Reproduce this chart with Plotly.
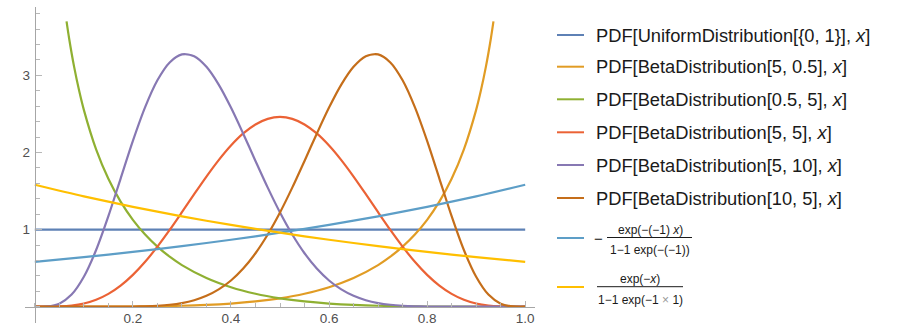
import plotly.graph_objects as go

# ---------------- data ----------------
x_uniform = [0.0, 1.0]
y_uniform = [1.0, 1.0]

x_beta = [0, 0.025, 0.05, 0.075, 0.1, 0.125, 0.15, 0.175, 0.2, 0.225, 0.25, 0.275, 0.3,
          0.325, 0.35, 0.375, 0.4, 0.425, 0.45, 0.475, 0.5, 0.525, 0.55, 0.575, 0.6,
          0.625, 0.65, 0.675, 0.7, 0.725, 0.75, 0.775, 0.8, 0.825, 0.85, 0.875, 0.9,
          0.925, 0.95, 0.975, 1.0]

y_beta_5_5 = [0, 0.000222, 0.003207, 0.014593, 0.041334, 0.09016, 0.16648, 0.27372, 0.41288,
              0.58248, 0.77866, 0.99544, 1.22523, 1.45912, 1.68759, 1.90102, 2.09019, 2.24678,
              2.36395, 2.43640, 2.46094, 2.43640, 2.36395, 2.24678, 2.09019, 1.90102, 1.68759,
              1.45912, 1.22523, 0.99544, 0.77866, 0.58248, 0.41288, 0.27372, 0.16648, 0.09016,
              0.041334, 0.014593, 0.003207, 0.000222, 0]

y_beta_5_10 = [0, 0.003114, 0.03943, 0.15703, 0.38781, 0.73478, 1.17373, 1.66211, 2.14961,
               2.58750, 2.93593, 3.16813, 3.27190, 3.24859, 3.11117, 2.88059, 2.58246, 2.24400,
               1.89050, 1.54403, 1.22192, 0.93608, 0.69310, 0.49500, 0.34006, 0.22398, 0.14083,
               0.08406, 0.04731, 0.02488, 0.01208, 0.005339, 0.002099, 0.000714, 0.000201,
               0.000044, 0.0000066, 0.00000055, 0, 0, 0]

y_beta_10_5 = [0, 0, 0, 0.00000055, 0.0000066, 0.000044, 0.000201, 0.000714, 0.002099,
               0.005339, 0.01208, 0.02488, 0.04731, 0.08406, 0.14083, 0.22398, 0.34006,
               0.49500, 0.69310, 0.93608, 1.22192, 1.54403, 1.89050, 2.24400, 2.58246,
               2.88059, 3.11117, 3.24859, 3.27190, 3.16813, 2.93593, 2.58750, 2.14961,
               1.66211, 1.17373, 0.73478, 0.38781, 0.15703, 0.03943, 0.003114, 0]

x_beta_5_05 = [0, 0.05, 0.1, 0.15, 0.2, 0.25, 0.3, 0.35, 0.4, 0.45, 0.5, 0.55, 0.6, 0.65, 0.7,
               0.725, 0.75, 0.775, 0.8, 0.825, 0.85, 0.875, 0.9, 0.91, 0.92, 0.93, 0.9353]
y_beta_5_05 = [0, 0.0000079, 0.0001297, 0.0006756, 0.0022012, 0.00555, 0.011913, 0.022903,
               0.040666, 0.068036, 0.10876, 0.16785, 0.25214, 0.37127, 0.53939, 0.64827,
               0.77866, 0.93581, 1.12697, 1.36260, 1.65845, 2.04009, 2.55294, 2.81265,
               3.11657, 3.47899, 3.70]

x_beta_05_5 = [0.0647, 0.07, 0.08, 0.09, 0.1, 0.125, 0.15, 0.175, 0.2, 0.225, 0.25, 0.275, 0.3,
               0.35, 0.4, 0.45, 0.5, 0.55, 0.6, 0.65, 0.7, 0.75, 0.8, 0.85, 0.9, 0.95, 1.0]
y_beta_05_5 = [3.70, 3.47899, 3.11657, 2.81265, 2.55294, 2.04009, 1.65845, 1.36260, 1.12697,
               0.93581, 0.77866, 0.64827, 0.53939, 0.37127, 0.25214, 0.16785, 0.10876,
               0.068036, 0.040666, 0.022903, 0.011913, 0.00555, 0.0022012, 0.0006756,
               0.0001297, 0.0000079, 0]

x_exp = [0, 0.1, 0.2, 0.3, 0.4, 0.5, 0.6, 0.7, 0.8, 0.9, 1.0]
y_exp_up = [0.58198, 0.64319, 0.71083, 0.78559, 0.86821, 0.95952, 1.06043, 1.17196,
            1.29521, 1.43143, 1.58198]
y_exp_down = [1.58198, 1.43143, 1.29521, 1.17196, 1.06043, 0.95952, 0.86821, 0.78559,
              0.71083, 0.64319, 0.58198]

x_tick_vals = [0.2, 0.4, 0.6, 0.8, 1.0]
x_tick_text = ["0.2", "0.4", "0.6", "0.8", "1.0"]
y_tick_vals = [1, 2, 3]
y_tick_text = ["1", "2", "3"]

legend_labels = [
    "PDF[UniformDistribution[{0, 1}], <i>x</i>]",
    "PDF[BetaDistribution[5, 0.5], <i>x</i>]",
    "PDF[BetaDistribution[0.5, 5], <i>x</i>]",
    "PDF[BetaDistribution[5, 5], <i>x</i>]",
    "PDF[BetaDistribution[5, 10], <i>x</i>]",
    "PDF[BetaDistribution[10, 5], <i>x</i>]",
]
frac1_num = "exp(−(−1) <i>x</i>)"
frac1_den = "1−1 exp(−(−1))"
frac2_num = "exp(−<i>x</i>)"
frac2_den = "1−1 exp(−1 <span style='color:#999999'>×</span> 1)"

colors = ["#5E81B5", "#E19C24", "#8FB032", "#EB6235", "#8778B3", "#C56E1A", "#5D9EC7", "#FFBF00"]

# ---------------- geometry ----------------
W, H = 899, 325
ML, MR, MT, MB = 25, 364, 7, 2
PW, PH = W - ML - MR, H - MT - MB
XR = [-0.02, 1.02]
YR = [-0.2115, 3.887]


def px(xp):
    return (xp - ML) / PW


def py(yp):
    return (H - MB - yp) / PH


fig = go.Figure()
series = [
    (x_uniform, y_uniform, "linear", "PDF[UniformDistribution[{0, 1}], x]"),
    (x_beta_5_05, y_beta_5_05, "spline", "PDF[BetaDistribution[5, 0.5], x]"),
    (x_beta_05_5, y_beta_05_5, "spline", "PDF[BetaDistribution[0.5, 5], x]"),
    (x_beta, y_beta_5_5, "spline", "PDF[BetaDistribution[5, 5], x]"),
    (x_beta, y_beta_5_10, "spline", "PDF[BetaDistribution[5, 10], x]"),
    (x_beta, y_beta_10_5, "spline", "PDF[BetaDistribution[10, 5], x]"),
    (x_exp, y_exp_up, "spline", "-exp(-(-1) x)/(1-1 exp(-(-1)))"),
    (x_exp, y_exp_down, "spline", "exp(-x)/(1-1 exp(-1 x 1))"),
]
for (xs, ys, shape, name), c in zip(series, colors):
    fig.add_trace(go.Scatter(x=xs, y=ys, mode="lines", name=name, showlegend=False,
                             line=dict(color=c, width=2.2, shape=shape, smoothing=0.8)))

axis_color = "#a6a6a6"
tick_color = "#b8b8b8"
tick_font = dict(family="Liberation Sans, Arial, sans-serif", size=13.5, color="#505050")

fig.update_xaxes(range=XR, showgrid=False, zeroline=False, anchor="free", automargin=False,
                 position=(0 - YR[0]) / (YR[1] - YR[0]),
                 showline=True, linecolor=axis_color, linewidth=1,
                 tickmode="array", tickvals=x_tick_vals, ticktext=x_tick_text,
                 ticks="inside", ticklen=6, tickcolor=tick_color, tickwidth=1,
                 tickfont=tick_font, ticklabelstandoff=-1,
                 minor=dict(ticks="inside", dtick=0.05, tick0=0, ticklen=4,
                            tickcolor=tick_color, tickwidth=1, showgrid=False))
fig.update_yaxes(range=YR, showgrid=False, zeroline=False, anchor="free", automargin=False,
                 position=(0 - XR[0]) / (XR[1] - XR[0]),
                 showline=True, linecolor=axis_color, linewidth=1,
                 tickmode="array", tickvals=y_tick_vals, ticktext=y_tick_text,
                 ticks="inside", ticklen=6, tickcolor=tick_color, tickwidth=1,
                 tickfont=tick_font, ticklabelstandoff=2,
                 minor=dict(ticks="inside", dtick=0.2, tick0=0, ticklen=4,
                            tickcolor=tick_color, tickwidth=1, showgrid=False))

# ---------------- manual legend ----------------
shapes = []
annotations = []
row_y = [35, 66.7, 99.3, 132.3, 165, 198, 238, 287]
LX0, LX1, TX = 557, 584, 594
leg_font = dict(family="Liberation Sans, Arial, sans-serif", size=18.3, color="#1a1a1a")
frac_font = dict(family="Liberation Sans, Arial, sans-serif", size=12, color="#1a1a1a")

for i, c in enumerate(colors):
    yy = py(row_y[i])
    shapes.append(dict(type="line", xref="paper", yref="paper", x0=px(LX0), x1=px(LX1),
                       y0=yy, y1=yy, line=dict(color=c, width=2)))
for i, lab in enumerate(legend_labels):
    annotations.append(dict(xref="paper", yref="paper", x=px(TX), y=py(row_y[i]), text=lab,
                            showarrow=False, xanchor="left", yanchor="middle", font=leg_font))

# fraction 1 (with leading minus)
annotations.append(dict(xref="paper", yref="paper", x=px(598), y=py(238), text="−",
                        showarrow=False, xanchor="center", yanchor="middle",
                        font=dict(family="Liberation Sans, Arial, sans-serif", size=15, color="#1a1a1a")))
shapes.append(dict(type="line", xref="paper", yref="paper", x0=px(607), x1=px(692),
                   y0=py(237.5), y1=py(237.5), line=dict(color="#1a1a1a", width=1)))
annotations.append(dict(xref="paper", yref="paper", x=px(650), y=py(229.5), text=frac1_num,
                        showarrow=False, xanchor="center", yanchor="middle", font=frac_font))
annotations.append(dict(xref="paper", yref="paper", x=px(650), y=py(250), text=frac1_den,
                        showarrow=False, xanchor="center", yanchor="middle", font=frac_font))
# fraction 2
shapes.append(dict(type="line", xref="paper", yref="paper", x0=px(597), x1=px(683),
                   y0=py(286.7), y1=py(286.7), line=dict(color="#1a1a1a", width=1)))
annotations.append(dict(xref="paper", yref="paper", x=px(640), y=py(279), text=frac2_num,
                        showarrow=False, xanchor="center", yanchor="middle", font=frac_font))
annotations.append(dict(xref="paper", yref="paper", x=px(640), y=py(300), text=frac2_den,
                        showarrow=False, xanchor="center", yanchor="middle", font=frac_font))

fig.update_layout(width=W, height=H, margin=dict(l=ML, r=MR, t=MT, b=MB, pad=0, autoexpand=False),
                  paper_bgcolor="white", plot_bgcolor="white", showlegend=False,
                  shapes=shapes, annotations=annotations)

fig.write_html("out.html", config={"displayModeBar": False},
               post_script="document.body.style.margin='0px';")
